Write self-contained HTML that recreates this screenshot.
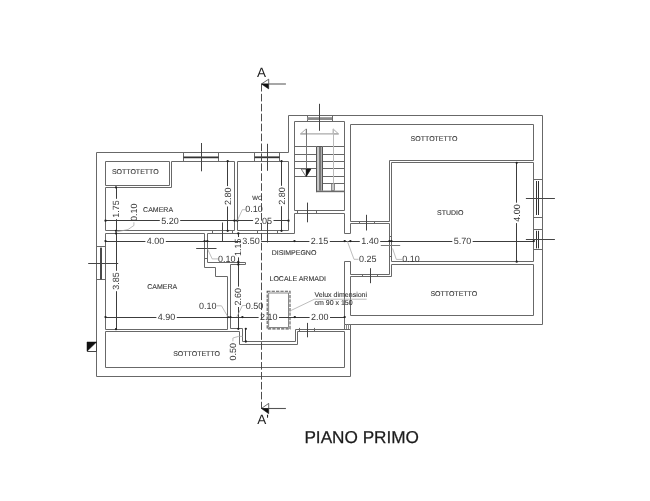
<!DOCTYPE html>
<html><head><meta charset="utf-8"><title>Piano Primo</title>
<style>
html,body{margin:0;padding:0;background:#fff;}
body{width:650px;height:501px;overflow:hidden;}
svg{display:block;will-change:transform;font-family:"Liberation Sans",sans-serif;}
text{text-rendering:geometricPrecision;}
</style></head><body>
<svg width="650" height="501" viewBox="0 0 650 501">
<rect x="0" y="0" width="650" height="501" fill="#ffffff"/>
<path d="M96.5 152.5 L288.5 152.5 L288.5 115.5 L542.5 115.5 L542.5 324.5 L350.5 324.5 L350.5 376.5 L96.5 376.5 Z" fill="none" stroke="#686868" stroke-width="1" stroke-linejoin="miter"/>
<path d="M105.5 161.5 L169.5 161.5 L169.5 185.5 L105.5 185.5 Z" fill="none" stroke="#686868" stroke-width="1" stroke-linejoin="miter"/>
<path d="M171.5 161.5 L234.5 161.5 L234.5 230.5 L105.5 230.5 L105.5 187.5 L171.5 187.5 Z" fill="none" stroke="#686868" stroke-width="1" stroke-linejoin="miter"/>
<path d="M237.5 161.5 L288.5 161.5 L288.5 230.5 L237.5 230.5 Z" fill="none" stroke="#686868" stroke-width="1" stroke-linejoin="miter"/>
<path d="M294.5 121.5 L344.5 121.5 L344.5 210.5 L294.5 210.5 Z" fill="none" stroke="#686868" stroke-width="1" stroke-linejoin="miter"/>
<path d="M350.5 124.5 L533.5 124.5 L533.5 160.5 L389.5 160.5 L389.5 221.5 L350.5 221.5 Z" fill="none" stroke="#686868" stroke-width="1" stroke-linejoin="miter"/>
<path d="M391.5 162.5 L533.5 162.5 L533.5 261.5 L391.5 261.5 Z" fill="none" stroke="#686868" stroke-width="1" stroke-linejoin="miter"/>
<path d="M391.5 264.5 L533.5 264.5 L533.5 315.5 L350.5 315.5 L350.5 276.5 L391.5 276.5 Z" fill="none" stroke="#686868" stroke-width="1" stroke-linejoin="miter"/>
<path d="M350.5 233.5 L350.5 223.5 L389.5 223.5 L389.5 274.5 L350.5 274.5 L350.5 261.5" fill="none" stroke="#686868" stroke-width="1" stroke-linejoin="miter"/>
<path d="M294.5 233.5 L294.5 213.5 L344.5 213.5 L344.5 233.5 L350.5 233.5" fill="none" stroke="#686868" stroke-width="1" stroke-linejoin="miter"/>
<path d="M350.5 261.5 L344.5 261.5 L344.5 324.5" fill="none" stroke="#686868" stroke-width="1" stroke-linejoin="miter"/>
<path d="M344.5 324.5 L350.5 324.5 L350.5 329.5 L344.5 329.5 Z" fill="none" stroke="#686868" stroke-width="1" stroke-linejoin="miter"/>
<line x1="346.5" y1="324.3" x2="346.5" y2="329.3" stroke="#888" stroke-width="1" />
<line x1="348.5" y1="324.3" x2="348.5" y2="329.3" stroke="#888" stroke-width="1" />
<path d="M105.5 233.5 L204.5 233.5 L204.5 267.5 L215.5 267.5 L215.5 276.5 L227.5 276.5 L227.5 329.5 L105.5 329.5 Z" fill="none" stroke="#686868" stroke-width="1" stroke-linejoin="miter"/>
<path d="M294.5 233.5 L207.5 233.5 L207.5 262.5 L245.5 262.5 L245.5 264.5 L230.5 264.5 L230.5 328.5 L242.5 328.5 L242.5 341.5 L295.5 341.5 L295.5 329.5 L350.5 329.5" fill="none" stroke="#686868" stroke-width="1" stroke-linejoin="miter"/>
<path d="M105.5 331.5 L239.5 331.5 L239.5 344.5 L297.5 344.5 L297.5 331.5 L344.5 331.5 L344.5 367.5 L105.5 367.5 Z" fill="none" stroke="#686868" stroke-width="1" stroke-linejoin="miter"/>
<line x1="183.5" y1="152.8" x2="183.5" y2="161.2" stroke="#686868" stroke-width="1" />
<line x1="218.5" y1="152.8" x2="218.5" y2="161.2" stroke="#686868" stroke-width="1" />
<line x1="183.5" y1="157.3" x2="218.6" y2="157.3" stroke="#333" stroke-width="1.8" />
<line x1="201.5" y1="143" x2="201.5" y2="171.3" stroke="#444" stroke-width="1" />
<line x1="254.5" y1="152.8" x2="254.5" y2="161.2" stroke="#686868" stroke-width="1" />
<line x1="279.5" y1="152.8" x2="279.5" y2="161.2" stroke="#686868" stroke-width="1" />
<line x1="254.6" y1="161.5" x2="279.5" y2="161.5" stroke="#686868" stroke-width="1" />
<line x1="254.6" y1="157.3" x2="279.5" y2="157.3" stroke="#333" stroke-width="1.8" />
<line x1="267.5" y1="143.8" x2="267.5" y2="170.8" stroke="#444" stroke-width="1" />
<line x1="307.5" y1="115.5" x2="307.5" y2="121.8" stroke="#686868" stroke-width="1" />
<line x1="332.5" y1="115.5" x2="332.5" y2="121.8" stroke="#686868" stroke-width="1" />
<rect x="307.2" y="117.2" width="24.8" height="2.8" fill="#8a8a8a"/>
<line x1="319.5" y1="103.8" x2="319.5" y2="130.8" stroke="#444" stroke-width="1" />
<line x1="96.6" y1="246.5" x2="105.5" y2="246.5" stroke="#686868" stroke-width="1" />
<line x1="96.6" y1="279.5" x2="105.5" y2="279.5" stroke="#686868" stroke-width="1" />
<line x1="100.5" y1="247.6" x2="100.5" y2="279.5" stroke="#4a4a4a" stroke-width="1" />
<line x1="101.5" y1="247.6" x2="101.5" y2="279.5" stroke="#4a4a4a" stroke-width="1" />
<line x1="88.2" y1="263.5" x2="118.2" y2="263.5" stroke="#444" stroke-width="1" />
<line x1="533.8" y1="179.5" x2="542.5" y2="179.5" stroke="#686868" stroke-width="1" />
<line x1="533.8" y1="217.5" x2="542.5" y2="217.5" stroke="#686868" stroke-width="1" />
<line x1="536.5" y1="181" x2="536.5" y2="215" stroke="#333" stroke-width="1" />
<line x1="538.5" y1="181" x2="538.5" y2="215" stroke="#333" stroke-width="1" />
<line x1="525.9" y1="198.5" x2="554.9" y2="198.5" stroke="#444" stroke-width="1" />
<line x1="533.8" y1="229.5" x2="542.5" y2="229.5" stroke="#686868" stroke-width="1" />
<line x1="533.8" y1="249.5" x2="542.5" y2="249.5" stroke="#686868" stroke-width="1" />
<line x1="536.5" y1="230.8" x2="536.5" y2="248.4" stroke="#333" stroke-width="1" />
<line x1="538.5" y1="230.8" x2="538.5" y2="248.4" stroke="#333" stroke-width="1" />
<line x1="525.9" y1="239.5" x2="554.9" y2="239.5" stroke="#444" stroke-width="1" />
<line x1="212.5" y1="230.8" x2="212.5" y2="233.4" stroke="#686868" stroke-width="1" />
<line x1="232.5" y1="230.8" x2="232.5" y2="233.4" stroke="#686868" stroke-width="1" />
<line x1="222.5" y1="222.5" x2="222.5" y2="241.7" stroke="#444" stroke-width="1" />
<line x1="257.5" y1="230.8" x2="257.5" y2="233.4" stroke="#686868" stroke-width="1" />
<line x1="277.5" y1="230.8" x2="277.5" y2="233.4" stroke="#686868" stroke-width="1" />
<line x1="267.5" y1="221.5" x2="267.5" y2="242.4" stroke="#444" stroke-width="1" />
<line x1="297.5" y1="210.8" x2="297.5" y2="213.5" stroke="#686868" stroke-width="1" />
<line x1="316.5" y1="210.8" x2="316.5" y2="213.5" stroke="#686868" stroke-width="1" />
<line x1="307.5" y1="202.6" x2="307.5" y2="222.3" stroke="#444" stroke-width="1" />
<line x1="359.5" y1="221" x2="359.5" y2="223.5" stroke="#686868" stroke-width="1" />
<line x1="374.5" y1="221" x2="374.5" y2="223.5" stroke="#686868" stroke-width="1" />
<line x1="366.5" y1="214.8" x2="366.5" y2="230.5" stroke="#444" stroke-width="1" />
<line x1="362.5" y1="274" x2="362.5" y2="276.5" stroke="#686868" stroke-width="1" />
<line x1="377.5" y1="274" x2="377.5" y2="276.5" stroke="#686868" stroke-width="1" />
<line x1="370.5" y1="268.2" x2="370.5" y2="283.2" stroke="#444" stroke-width="1" />
<line x1="389.5" y1="236.5" x2="391.4" y2="236.5" stroke="#686868" stroke-width="1" />
<line x1="389.5" y1="256.5" x2="391.4" y2="256.5" stroke="#686868" stroke-width="1" />
<line x1="380.8" y1="245.5" x2="400.2" y2="245.5" stroke="#777" stroke-width="1" />
<line x1="204.6" y1="241.5" x2="207.3" y2="241.5" stroke="#686868" stroke-width="1" />
<line x1="204.6" y1="258.5" x2="207.3" y2="258.5" stroke="#686868" stroke-width="1" />
<line x1="196.2" y1="248.5" x2="216.5" y2="248.5" stroke="#444" stroke-width="1" />
<line x1="299.5" y1="327.9" x2="299.5" y2="331.5" stroke="#686868" stroke-width="1" />
<line x1="314.5" y1="327.9" x2="314.5" y2="331.5" stroke="#686868" stroke-width="1" />
<line x1="307.5" y1="322.9" x2="307.5" y2="337.3" stroke="#444" stroke-width="1" />
<line x1="294.4" y1="146.5" x2="316.4" y2="146.5" stroke="#686868" stroke-width="1" />
<line x1="294.4" y1="154.5" x2="316.4" y2="154.5" stroke="#686868" stroke-width="1" />
<line x1="294.4" y1="161.5" x2="316.4" y2="161.5" stroke="#686868" stroke-width="1" />
<line x1="294.4" y1="168.5" x2="316.4" y2="168.5" stroke="#686868" stroke-width="1" />
<line x1="294.4" y1="176.5" x2="316.4" y2="176.5" stroke="#686868" stroke-width="1" />
<line x1="322.6" y1="146.5" x2="344.6" y2="146.5" stroke="#686868" stroke-width="1" />
<line x1="322.6" y1="154.5" x2="344.6" y2="154.5" stroke="#686868" stroke-width="1" />
<line x1="322.6" y1="161.5" x2="344.6" y2="161.5" stroke="#686868" stroke-width="1" />
<line x1="322.6" y1="168.5" x2="344.6" y2="168.5" stroke="#686868" stroke-width="1" />
<line x1="322.6" y1="176.5" x2="344.6" y2="176.5" stroke="#686868" stroke-width="1" />
<line x1="322.6" y1="183.5" x2="344.6" y2="183.5" stroke="#686868" stroke-width="1" />
<rect x="316.6" y="146.7" width="2.3" height="44" fill="#c6c6c6"/>
<rect x="320.3" y="146.7" width="2.2" height="44" fill="#b0b0b0"/>
<line x1="316.5" y1="146.7" x2="316.5" y2="192.2" stroke="#555" stroke-width="1" />
<line x1="322.5" y1="146.7" x2="322.5" y2="190.6" stroke="#555" stroke-width="1" />
<line x1="319.5" y1="146.7" x2="319.5" y2="190.6" stroke="#777" stroke-width="1" />
<line x1="320.5" y1="146.7" x2="320.5" y2="190.6" stroke="#777" stroke-width="1" />
<line x1="316.4" y1="146.5" x2="322.6" y2="146.5" stroke="#555" stroke-width="1" />
<rect x="316.4" y="190.6" width="28.2" height="1.6" fill="#6a6a6a"/>
<rect x="331.5" y="183.7" width="3.1" height="6.9" fill="#c8c8c8" stroke="#666" stroke-width="0.7"/>
<line x1="300.5" y1="133.9" x2="338.5" y2="133.9" stroke="#aaa" stroke-width="1.1" />
<path d="M300.5 133.9 L306.1 128.9 L306.1 133.9 Z" fill="none" stroke="#aaa" stroke-width="1" stroke-linejoin="miter"/>
<path d="M338.5 133.9 L333.1 128.9 L333.1 133.9 Z" fill="none" stroke="#aaa" stroke-width="1" stroke-linejoin="miter"/>
<line x1="306.5" y1="128.9" x2="306.5" y2="176" stroke="#777" stroke-width="1" />
<line x1="333.5" y1="128.9" x2="333.5" y2="183.6" stroke="#bbb" stroke-width="1" />
<path d="M301.2 169.1 L310.8 169.1 L306.1 176.6 Z" fill="none" stroke="#555" stroke-width="0.8" stroke-linejoin="miter"/>
<path d="M306.1 169.1 L310.8 169.1 L306.1 176.6 Z" fill="#111" stroke="#111" stroke-width="0.5" stroke-linejoin="miter"/>
<line x1="261.5" y1="84.2" x2="261.5" y2="408.4" stroke="#444" stroke-width="0.95" stroke-dasharray="7.6 2.334" stroke-dashoffset="0.3"/>
<path d="M261.4 84 L268.7 79.2 L268.7 84 Z" fill="none" stroke="#444" stroke-width="0.8" stroke-linejoin="miter"/>
<path d="M261.4 84 L268.7 84 L268.7 88.9 Z" fill="#111" stroke="#111" stroke-width="0.5" stroke-linejoin="miter"/>
<line x1="268.7" y1="84" x2="285.9" y2="84" stroke="#777" stroke-width="1.3" />
<path d="M261.4 408.5 L268.7 403.4 L268.7 408.5 Z" fill="none" stroke="#444" stroke-width="0.8" stroke-linejoin="miter"/>
<path d="M261.4 408.5 L268.7 408.5 L268.7 413.7 Z" fill="#111" stroke="#111" stroke-width="0.5" stroke-linejoin="miter"/>
<line x1="268.7" y1="408.5" x2="285.9" y2="408.5" stroke="#555" stroke-width="1.1" />
<text x="261.6" y="72.5" font-size="13.5" text-anchor="middle" fill="#222" dominant-baseline="central" >A</text>
<text x="263.0" y="419.8" font-size="13.5" text-anchor="middle" fill="#222" dominant-baseline="central" >A'</text>
<path d="M87.5 342.5 L96.5 342.5 L96.5 351.5 L87.5 351.5 Z" fill="none" stroke="#444" stroke-width="1" stroke-linejoin="miter"/>
<path d="M87 342 L96.6 342 L87 351.3 Z" fill="#111" stroke="#111" stroke-width="0.5" stroke-linejoin="miter"/>
<rect x="267.2" y="291.3" width="22.8" height="37.6" fill="none" stroke="#5a5a5a" stroke-width="1.1" stroke-dasharray="3.3 1.1"/>
<rect x="268.7" y="293.0" width="19.8" height="34.4" fill="none" stroke="#6a6a6a" stroke-width="0.8"/>
<path d="M366.7 299.2 L314.5 299.2 L289.9 311" fill="none" stroke="#a0a0a0" stroke-width="0.7" stroke-linejoin="miter"/>
<text x="314.5" y="295.4" font-size="7" text-anchor="start" fill="#3a3a3a" dominant-baseline="central"  stroke="#3a3a3a" stroke-width="0.12">Velux dimensioni</text>
<text x="314.5" y="303.7" font-size="7" text-anchor="start" fill="#3a3a3a" dominant-baseline="central"  stroke="#3a3a3a" stroke-width="0.12">cm 90 x 150</text>
<line x1="105.5" y1="220.5" x2="159.8" y2="220.5" stroke="#3c3c3c" stroke-width="1" />
<line x1="180.2" y1="220.5" x2="234.5" y2="220.5" stroke="#3c3c3c" stroke-width="1" />
<text x="170" y="220.7" font-size="9.0" text-anchor="middle" fill="#3a3a3a" dominant-baseline="central" >5.20</text>
<line x1="234.5" y1="220.5" x2="253.10000000000002" y2="220.5" stroke="#3c3c3c" stroke-width="1" />
<line x1="273.5" y1="220.5" x2="288.5" y2="220.5" stroke="#3c3c3c" stroke-width="1" />
<text x="263.3" y="220.7" font-size="9.0" text-anchor="middle" fill="#3a3a3a" dominant-baseline="central" >2.05</text>
<circle cx="105.5" cy="220.7" r="1.15" fill="#222"/>
<circle cx="234.5" cy="220.7" r="1.15" fill="#222"/>
<circle cx="237.3" cy="220.7" r="1.15" fill="#222"/>
<circle cx="288.5" cy="220.7" r="1.15" fill="#222"/>
<line x1="105.5" y1="241.5" x2="145.4" y2="241.5" stroke="#3c3c3c" stroke-width="1" />
<line x1="165.79999999999998" y1="241.5" x2="204.6" y2="241.5" stroke="#3c3c3c" stroke-width="1" />
<text x="155.6" y="241.1" font-size="9.0" text-anchor="middle" fill="#3a3a3a" dominant-baseline="central" >4.00</text>
<line x1="204.6" y1="241.5" x2="240.8" y2="241.5" stroke="#3c3c3c" stroke-width="1" />
<line x1="261.2" y1="241.5" x2="294.5" y2="241.5" stroke="#3c3c3c" stroke-width="1" />
<text x="251" y="241.1" font-size="9.0" text-anchor="middle" fill="#3a3a3a" dominant-baseline="central" >3.50</text>
<line x1="294.5" y1="241.5" x2="309.40000000000003" y2="241.5" stroke="#3c3c3c" stroke-width="1" />
<line x1="329.8" y1="241.5" x2="344.7" y2="241.5" stroke="#3c3c3c" stroke-width="1" />
<text x="319.6" y="241.1" font-size="9.0" text-anchor="middle" fill="#3a3a3a" dominant-baseline="central" >2.15</text>
<line x1="344.7" y1="241.5" x2="350.4" y2="241.5" stroke="#3c3c3c" stroke-width="1" />
<line x1="350.4" y1="241.5" x2="359.8" y2="241.5" stroke="#3c3c3c" stroke-width="1" />
<line x1="380.2" y1="241.5" x2="389.5" y2="241.5" stroke="#3c3c3c" stroke-width="1" />
<text x="370" y="241.1" font-size="9.0" text-anchor="middle" fill="#3a3a3a" dominant-baseline="central" >1.40</text>
<line x1="389.5" y1="241.5" x2="452.3" y2="241.5" stroke="#3c3c3c" stroke-width="1" />
<line x1="472.7" y1="241.5" x2="533.8" y2="241.5" stroke="#3c3c3c" stroke-width="1" />
<text x="462.5" y="241.1" font-size="9.0" text-anchor="middle" fill="#3a3a3a" dominant-baseline="central" >5.70</text>
<circle cx="105.5" cy="241.1" r="1.15" fill="#222"/>
<circle cx="204.6" cy="241.1" r="1.15" fill="#222"/>
<circle cx="207.3" cy="241.1" r="1.15" fill="#222"/>
<circle cx="294.5" cy="241.1" r="1.15" fill="#222"/>
<circle cx="344.7" cy="241.1" r="1.15" fill="#222"/>
<circle cx="350.4" cy="241.1" r="1.15" fill="#222"/>
<circle cx="389.5" cy="241.1" r="1.15" fill="#222"/>
<circle cx="391.4" cy="241.1" r="1.15" fill="#222"/>
<circle cx="533.8" cy="241.1" r="1.15" fill="#222"/>
<line x1="105.5" y1="317.5" x2="156.4" y2="317.5" stroke="#3c3c3c" stroke-width="1" />
<line x1="176.79999999999998" y1="317.5" x2="227.9" y2="317.5" stroke="#3c3c3c" stroke-width="1" />
<text x="166.6" y="317.1" font-size="9.0" text-anchor="middle" fill="#3a3a3a" dominant-baseline="central" >4.90</text>
<line x1="227.9" y1="317.5" x2="242.4" y2="317.5" stroke="#3c3c3c" stroke-width="1" />
<line x1="242.4" y1="317.5" x2="258.6" y2="317.5" stroke="#3c3c3c" stroke-width="1" />
<line x1="279.0" y1="317.5" x2="294.8" y2="317.5" stroke="#3c3c3c" stroke-width="1" />
<text x="268.8" y="317.1" font-size="9.0" text-anchor="middle" fill="#3a3a3a" dominant-baseline="central" >2.10</text>
<line x1="294.8" y1="317.5" x2="309.6" y2="317.5" stroke="#3c3c3c" stroke-width="1" />
<line x1="330.0" y1="317.5" x2="344.7" y2="317.5" stroke="#3c3c3c" stroke-width="1" />
<text x="319.8" y="317.1" font-size="9.0" text-anchor="middle" fill="#3a3a3a" dominant-baseline="central" >2.00</text>
<circle cx="105.5" cy="317.1" r="1.15" fill="#222"/>
<circle cx="227.9" cy="317.1" r="1.15" fill="#222"/>
<circle cx="230.4" cy="317.1" r="1.15" fill="#222"/>
<circle cx="242.4" cy="317.1" r="1.15" fill="#222"/>
<circle cx="294.8" cy="317.1" r="1.15" fill="#222"/>
<circle cx="344.7" cy="317.1" r="1.15" fill="#222"/>
<line x1="116.5" y1="187.4" x2="116.5" y2="198.8" stroke="#3c3c3c" stroke-width="1" />
<line x1="116.5" y1="219.2" x2="116.5" y2="230.8" stroke="#3c3c3c" stroke-width="1" />
<text x="116" y="209" font-size="9.0" text-anchor="middle" fill="#3a3a3a" dominant-baseline="central" transform="rotate(-90 116 209)" >1.75</text>
<line x1="116.5" y1="233.4" x2="116.5" y2="270.8" stroke="#3c3c3c" stroke-width="1" />
<line x1="116.5" y1="291.2" x2="116.5" y2="329.2" stroke="#3c3c3c" stroke-width="1" />
<text x="116" y="281" font-size="9.0" text-anchor="middle" fill="#3a3a3a" dominant-baseline="central" transform="rotate(-90 116 281)" >3.85</text>
<line x1="116.5" y1="230.8" x2="116.5" y2="233.4" stroke="#3c3c3c" stroke-width="1" />
<circle cx="116" cy="187.4" r="1.15" fill="#222"/>
<circle cx="116" cy="230.8" r="1.15" fill="#222"/>
<circle cx="116" cy="233.4" r="1.15" fill="#222"/>
<circle cx="116" cy="329.2" r="1.15" fill="#222"/>
<line x1="227.5" y1="161.2" x2="227.5" y2="186.10000000000002" stroke="#3c3c3c" stroke-width="1" />
<line x1="227.5" y1="206.5" x2="227.5" y2="230.8" stroke="#3c3c3c" stroke-width="1" />
<text x="227.7" y="196.3" font-size="9.0" text-anchor="middle" fill="#3a3a3a" dominant-baseline="central" transform="rotate(-90 227.7 196.3)" >2.80</text>
<circle cx="227.7" cy="161.2" r="1.15" fill="#222"/>
<circle cx="227.7" cy="230.8" r="1.15" fill="#222"/>
<line x1="281.5" y1="161.2" x2="281.5" y2="185.8" stroke="#3c3c3c" stroke-width="1" />
<line x1="281.5" y1="206.2" x2="281.5" y2="230.8" stroke="#3c3c3c" stroke-width="1" />
<text x="281.5" y="196" font-size="9.0" text-anchor="middle" fill="#3a3a3a" dominant-baseline="central" transform="rotate(-90 281.5 196)" >2.80</text>
<circle cx="281.5" cy="161.2" r="1.15" fill="#222"/>
<circle cx="281.5" cy="230.8" r="1.15" fill="#222"/>
<line x1="238.5" y1="233.4" x2="238.5" y2="237.0" stroke="#3c3c3c" stroke-width="1" />
<line x1="238.5" y1="257.4" x2="238.5" y2="264.5" stroke="#3c3c3c" stroke-width="1" />
<text x="238.3" y="247.2" font-size="9.0" text-anchor="middle" fill="#3a3a3a" dominant-baseline="central" transform="rotate(-90 238.3 247.2)" >1.15</text>
<line x1="238.5" y1="264.5" x2="238.5" y2="286.6" stroke="#3c3c3c" stroke-width="1" />
<line x1="238.5" y1="307.0" x2="238.5" y2="328.8" stroke="#3c3c3c" stroke-width="1" />
<text x="238.3" y="296.8" font-size="9.0" text-anchor="middle" fill="#3a3a3a" dominant-baseline="central" transform="rotate(-90 238.3 296.8)" >2.60</text>
<circle cx="238.3" cy="233.4" r="1.15" fill="#222"/>
<circle cx="238.3" cy="262" r="1.15" fill="#222"/>
<circle cx="238.3" cy="264.5" r="1.15" fill="#222"/>
<circle cx="238.3" cy="328.8" r="1.15" fill="#222"/>
<line x1="516.5" y1="162.8" x2="516.5" y2="202.70000000000002" stroke="#3c3c3c" stroke-width="1" />
<line x1="516.5" y1="223.1" x2="516.5" y2="261.7" stroke="#3c3c3c" stroke-width="1" />
<text x="516.7" y="212.9" font-size="9.0" text-anchor="middle" fill="#3a3a3a" dominant-baseline="central" transform="rotate(-90 516.7 212.9)" >4.00</text>
<circle cx="516.7" cy="162.8" r="1.15" fill="#222"/>
<circle cx="516.7" cy="261.7" r="1.15" fill="#222"/>
<line x1="245.5" y1="328.8" x2="245.5" y2="341.5" stroke="#3c3c3c" stroke-width="1" />
<circle cx="245.8" cy="328.8" r="1.15" fill="#222"/>
<circle cx="245.8" cy="341.5" r="1.15" fill="#222"/>
<text x="233.3" y="351.8" font-size="9.0" text-anchor="middle" fill="#3a3a3a" dominant-baseline="central" transform="rotate(-90 233.3 351.8)" >0.50</text>
<path d="M232.9 341.3 L232.9 338 L238.5 336.4 L242.8 336.4" fill="none" stroke="#a0a0a0" stroke-width="0.7" stroke-linejoin="miter"/>
<text x="133.9" y="212.2" font-size="9.0" text-anchor="middle" fill="#3a3a3a" dominant-baseline="central" transform="rotate(-90 133.9 212.2)" >0.10</text>
<path d="M133.9 222.3 L133.9 225.5 L128 229.5 L116 232" fill="none" stroke="#a0a0a0" stroke-width="0.7" stroke-linejoin="miter"/>
<text x="254" y="209.0" font-size="9.0" text-anchor="middle" fill="#3a3a3a" dominant-baseline="central" >0.10</text>
<path d="M245.5 209.7 L242.3 209.7 L237.3 220.7" fill="none" stroke="#a0a0a0" stroke-width="0.7" stroke-linejoin="miter"/>
<text x="226.7" y="258.9" font-size="9.0" text-anchor="middle" fill="#3a3a3a" dominant-baseline="central" >0.10</text>
<path d="M218 258.9 L212.2 258.9 L207.3 248.5" fill="none" stroke="#a0a0a0" stroke-width="0.7" stroke-linejoin="miter"/>
<text x="207.8" y="305.8" font-size="9.0" text-anchor="middle" fill="#3a3a3a" dominant-baseline="central" >0.10</text>
<path d="M216.5 305.8 L221.5 305.8 L228 317.1" fill="none" stroke="#a0a0a0" stroke-width="0.7" stroke-linejoin="miter"/>
<text x="254.4" y="305.5" font-size="9.0" text-anchor="middle" fill="#3a3a3a" dominant-baseline="central" >0.50</text>
<path d="M246 305.5 L242.4 305.5 L236.8 317" fill="none" stroke="#a0a0a0" stroke-width="0.7" stroke-linejoin="miter"/>
<text x="367.8" y="259.3" font-size="9.0" text-anchor="middle" fill="#3a3a3a" dominant-baseline="central" >0.25</text>
<path d="M358.5 259.3 L354 259.3 L347.3 241.1" fill="none" stroke="#a0a0a0" stroke-width="0.7" stroke-linejoin="miter"/>
<text x="410.9" y="259" font-size="9.0" text-anchor="middle" fill="#3a3a3a" dominant-baseline="central" >0.10</text>
<path d="M402 259.4 L396.3 259.4 L392.6 248.5" fill="none" stroke="#a0a0a0" stroke-width="0.7" stroke-linejoin="miter"/>
<text x="135.3" y="172.7" font-size="7" text-anchor="middle" fill="#3a3a3a" dominant-baseline="central"  stroke="#3a3a3a" stroke-width="0.12">SOTTOTETTO</text>
<text x="158.1" y="210.1" font-size="7" text-anchor="middle" fill="#3a3a3a" dominant-baseline="central"  stroke="#3a3a3a" stroke-width="0.12">CAMERA</text>
<text x="257.3" y="198.6" font-size="6" text-anchor="middle" fill="#3a3a3a" dominant-baseline="central"  stroke="#3a3a3a" stroke-width="0.12">WC</text>
<text x="294.0" y="253.39999999999998" font-size="7" text-anchor="middle" fill="#3a3a3a" dominant-baseline="central"  stroke="#3a3a3a" stroke-width="0.12">DISIMPEGNO</text>
<text x="297.7" y="279.4" font-size="7" text-anchor="middle" fill="#3a3a3a" dominant-baseline="central"  stroke="#3a3a3a" stroke-width="0.12">LOCALE ARMADI</text>
<text x="162.2" y="287.2" font-size="7" text-anchor="middle" fill="#3a3a3a" dominant-baseline="central"  stroke="#3a3a3a" stroke-width="0.12">CAMERA</text>
<text x="196.6" y="354.4" font-size="7" text-anchor="middle" fill="#3a3a3a" dominant-baseline="central"  stroke="#3a3a3a" stroke-width="0.12">SOTTOTETTO</text>
<text x="434.0" y="139.5" font-size="7" text-anchor="middle" fill="#3a3a3a" dominant-baseline="central"  stroke="#3a3a3a" stroke-width="0.12">SOTTOTETTO</text>
<text x="450.3" y="213.7" font-size="7" text-anchor="middle" fill="#3a3a3a" dominant-baseline="central"  stroke="#3a3a3a" stroke-width="0.12">STUDIO</text>
<text x="453.8" y="294.3" font-size="7" text-anchor="middle" fill="#3a3a3a" dominant-baseline="central"  stroke="#3a3a3a" stroke-width="0.12">SOTTOTETTO</text>
<text x="361.7" y="437.0" font-size="17.2" text-anchor="middle" fill="#1c1c1c" dominant-baseline="central" stroke="#1c1c1c" stroke-width="0.25">PIANO PRIMO</text>
</svg>
</body></html>
